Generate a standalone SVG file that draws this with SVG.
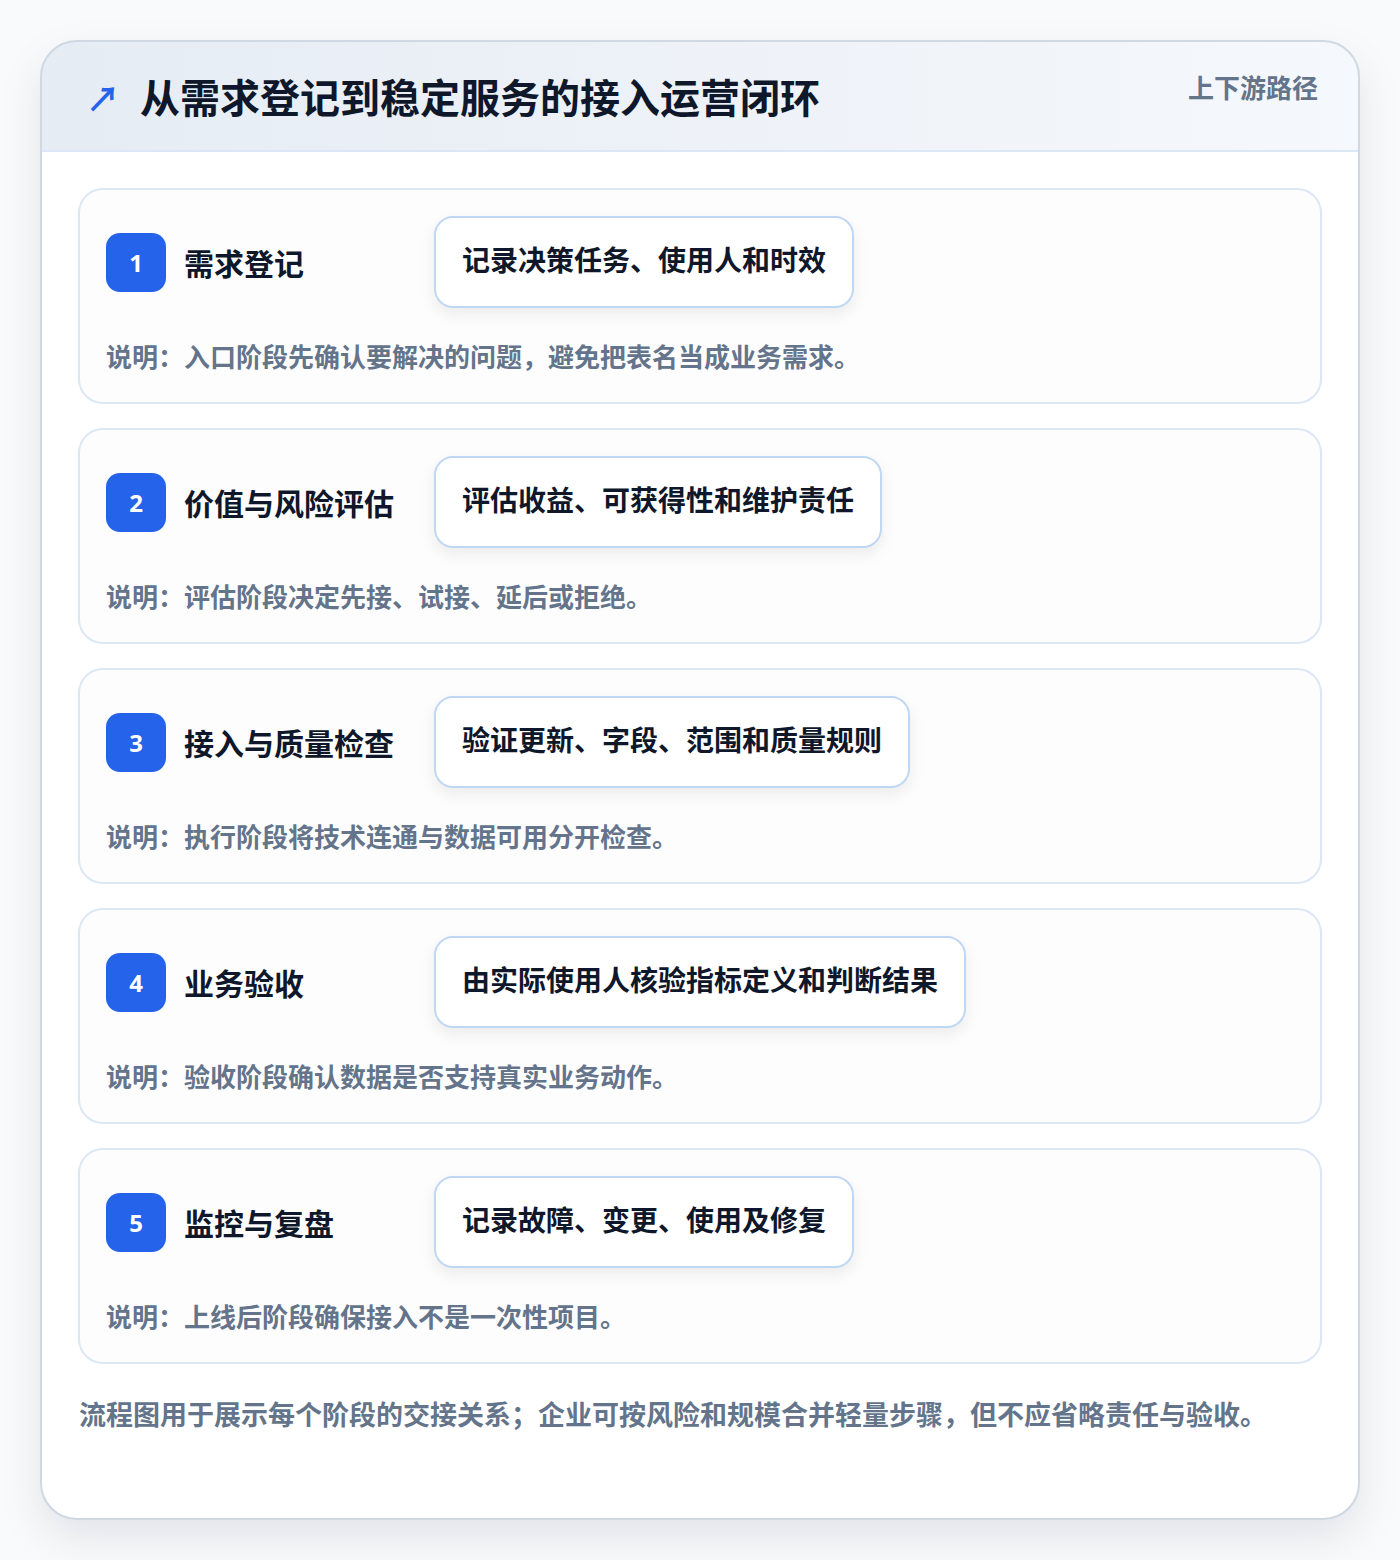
<svg xmlns="http://www.w3.org/2000/svg" width="1400" height="1560" viewBox="0 0 1400 1560">
  <defs>
    <linearGradient id="hdr" x1="0" y1="0" x2="1" y2="0">
      <stop offset="0" stop-color="#e6ecf4"/>
      <stop offset="1" stop-color="#f5f8fc"/>
    </linearGradient>
    <filter id="outerShadow" x="-10%" y="-10%" width="120%" height="125%">
      <feDropShadow dx="0" dy="18" stdDeviation="20" flood-color="#0f172a" flood-opacity="0.09"/>
    </filter>
    <filter id="pillShadow" x="-10%" y="-20%" width="120%" height="160%">
      <feDropShadow dx="0" dy="6" stdDeviation="7" flood-color="#0f172a" flood-opacity="0.07"/>
    </filter>
    <clipPath id="outerClip">
      <rect x="41" y="41" width="1318" height="1478" rx="36"/>
    </clipPath>
    <style>
      .t { font-family: "Noto Sans CJK SC", "Noto Sans", sans-serif; font-weight: 700; }
      .title { font-size: 40px; fill: #0f172a; }
      .sub { font-size: 26px; fill: #64748b; }
      .card { fill: #fdfdfe; stroke: #dbe7f6; stroke-width: 2; }
      .badge { fill: #2563eb; }
      .num { font-size: 24px; fill: #ffffff; font-family: "Noto Sans", "DejaVu Sans", sans-serif; font-weight: 700; }
      .step { font-size: 30px; fill: #0f172a; }
      .pill { fill: #ffffff; stroke: #bfd7f3; stroke-width: 2; }
      .pilltxt { font-size: 28px; fill: #0f172a; }
      .desc { font-size: 26px; fill: #64748b; }
      .foot { font-size: 27px; fill: #64748b; }
    </style>
  </defs>
  <rect x="0" y="0" width="1400" height="1560" fill="#f9fafb"/>
  <g id="frame">
    <rect x="41" y="41" width="1318" height="1478" rx="36" fill="#ffffff" filter="url(#outerShadow)"/>
    <g clip-path="url(#outerClip)">
      <rect x="41" y="41" width="1318" height="110" fill="url(#hdr)"/>
      <line x1="41" y1="151" x2="1359" y2="151" stroke="#dbe7f6" stroke-width="2"/>
    </g>
    <rect x="41" y="41" width="1318" height="1478" rx="36" fill="none" stroke="#cfd8e3" stroke-width="2"/>
  </g>
  <g id="header">
    <text class="t" x="86" y="112" font-size="34" fill="#2563eb" font-family="DejaVu Sans, sans-serif">↗</text>
    <text class="t title" x="140" y="113">从需求登记到稳定服务的接入运营闭环</text>
    <text class="t sub" x="1318" y="98" text-anchor="end">上下游路径</text>
  </g>
  <g id="step1">
    <rect class="card" x="79" y="189" width="1242" height="214" rx="24"/>
    <rect class="badge" x="106" y="233" width="60" height="59" rx="14"/>
    <text class="num" x="136" y="272" text-anchor="middle">1</text>
    <text class="t step" x="184" y="275">需求登记</text>
    <rect class="pill" x="435" y="217" width="418" height="90" rx="18" filter="url(#pillShadow)"/>
    <text class="t pilltxt" x="462" y="271">记录决策任务、使用人和时效</text>
    <text class="t desc" x="106" y="367">说明：入口阶段先确认要解决的问题，避免把表名当成业务需求。</text>
  </g>
  <g id="step2">
    <rect class="card" x="79" y="429" width="1242" height="214" rx="24"/>
    <rect class="badge" x="106" y="473" width="60" height="59" rx="14"/>
    <text class="num" x="136" y="512" text-anchor="middle">2</text>
    <text class="t step" x="184" y="515">价值与风险评估</text>
    <rect class="pill" x="435" y="457" width="446" height="90" rx="18" filter="url(#pillShadow)"/>
    <text class="t pilltxt" x="462" y="511">评估收益、可获得性和维护责任</text>
    <text class="t desc" x="106" y="607">说明：评估阶段决定先接、试接、延后或拒绝。</text>
  </g>
  <g id="step3">
    <rect class="card" x="79" y="669" width="1242" height="214" rx="24"/>
    <rect class="badge" x="106" y="713" width="60" height="59" rx="14"/>
    <text class="num" x="136" y="752" text-anchor="middle">3</text>
    <text class="t step" x="184" y="755">接入与质量检查</text>
    <rect class="pill" x="435" y="697" width="474" height="90" rx="18" filter="url(#pillShadow)"/>
    <text class="t pilltxt" x="462" y="751">验证更新、字段、范围和质量规则</text>
    <text class="t desc" x="106" y="847">说明：执行阶段将技术连通与数据可用分开检查。</text>
  </g>
  <g id="step4">
    <rect class="card" x="79" y="909" width="1242" height="214" rx="24"/>
    <rect class="badge" x="106" y="953" width="60" height="59" rx="14"/>
    <text class="num" x="136" y="992" text-anchor="middle">4</text>
    <text class="t step" x="184" y="995">业务验收</text>
    <rect class="pill" x="435" y="937" width="530" height="90" rx="18" filter="url(#pillShadow)"/>
    <text class="t pilltxt" x="462" y="991">由实际使用人核验指标定义和判断结果</text>
    <text class="t desc" x="106" y="1087">说明：验收阶段确认数据是否支持真实业务动作。</text>
  </g>
  <g id="step5">
    <rect class="card" x="79" y="1149" width="1242" height="214" rx="24"/>
    <rect class="badge" x="106" y="1193" width="60" height="59" rx="14"/>
    <text class="num" x="136" y="1232" text-anchor="middle">5</text>
    <text class="t step" x="184" y="1235">监控与复盘</text>
    <rect class="pill" x="435" y="1177" width="418" height="90" rx="18" filter="url(#pillShadow)"/>
    <text class="t pilltxt" x="462" y="1231">记录故障、变更、使用及修复</text>
    <text class="t desc" x="106" y="1327">说明：上线后阶段确保接入不是一次性项目。</text>
  </g>
  <g id="connectors"/>
  <g id="footer">
    <text class="t foot" x="79" y="1425">流程图用于展示每个阶段的交接关系；企业可按风险和规模合并轻量步骤，但不应省略责任与验收。</text>
  </g>
</svg>
